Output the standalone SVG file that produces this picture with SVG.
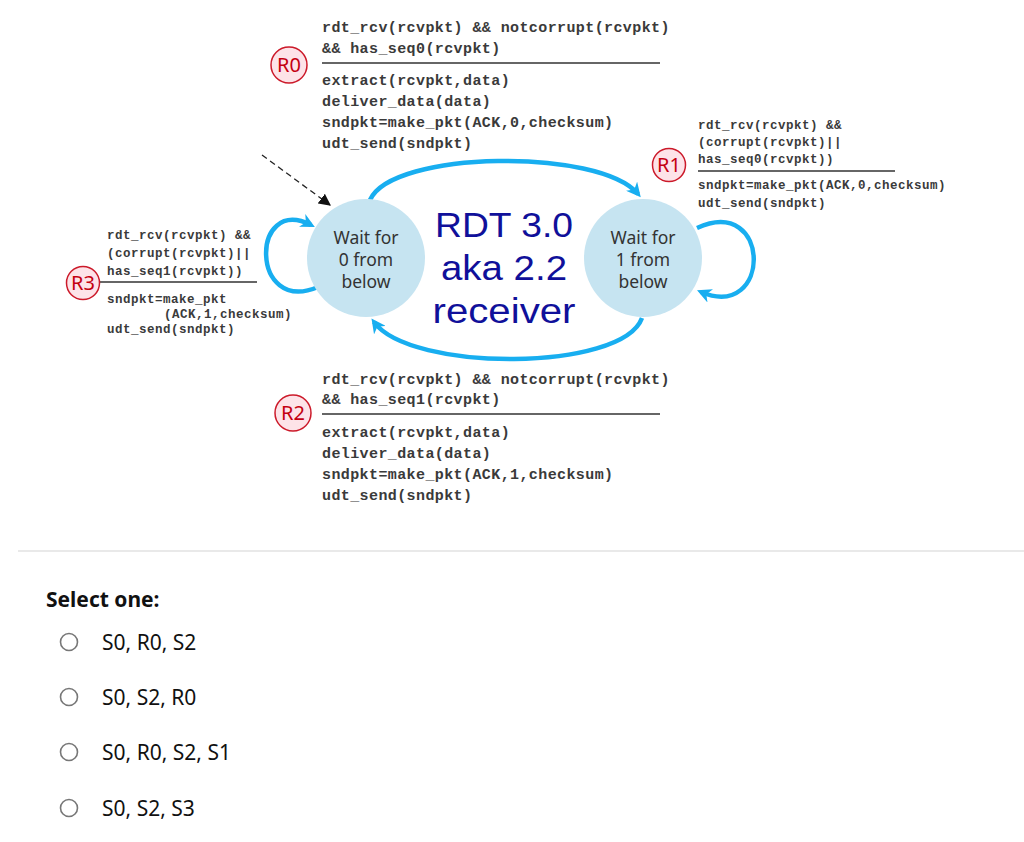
<svg xmlns="http://www.w3.org/2000/svg" width="1024" height="842" viewBox="0 0 1024 842">
<style>
.code{font-family:"Liberation Mono","DejaVu Sans Mono",monospace;font-weight:bold;font-size:15px;fill:#3a3a3a;letter-spacing:0.4px}
.codes{font-family:"Liberation Mono","DejaVu Sans Mono",monospace;font-weight:bold;font-size:12.5px;fill:#3a3a3a;letter-spacing:0.5px}
.rule{stroke:#333;stroke-width:1.3}
.tag circle{fill:#fde3e8;stroke:#cc1a2a;stroke-width:1.5}
.tag text{font-family:"Noto Sans","Liberation Sans",sans-serif;font-size:20px;fill:#c40010;text-anchor:middle}
.state circle{fill:#c6e4f1}
.state text{font-family:"Noto Sans","Liberation Sans",sans-serif;font-size:17.5px;fill:#333;text-anchor:middle}
.edge{fill:none;stroke:#18aef0;stroke-width:4.5}
.title{font-family:"Liberation Sans","Noto Sans",sans-serif;font-size:35px;fill:#10109a;text-anchor:middle}
.opt{font-family:"Noto Sans","Liberation Sans",sans-serif;font-size:21px;fill:#111}
.radio{fill:#fff;stroke:#777;stroke-width:1.6}
</style>
<defs>
<marker id="ab" viewBox="0 0 10 10" refX="7" refY="5" markerWidth="3.2" markerHeight="3.2" orient="auto" markerUnits="strokeWidth">
<path d="M0,0 L10,5 L0,10 L3,5 Z" fill="#18aef0"/>
</marker>
<marker id="ak" viewBox="0 0 10 10" refX="9" refY="5" markerWidth="12" markerHeight="12" orient="auto" markerUnits="userSpaceOnUse">
<path d="M0,0 L10,5 L0,10 Z" fill="#111"/>
</marker>
</defs>
<rect width="1024" height="842" fill="#fff"/>

<g id="connectors">
<path class="edge" d="M370,200 C392,150 600,148 638,194" marker-end="url(#ab)"/>
<path class="edge" d="M642,318 C622,372 410,372 374,322" marker-end="url(#ab)"/>
<path class="edge" d="M318,287 C250,316 250,194 311,225" marker-end="url(#ab)"/>
<path class="edge" d="M697,228 C772,194 772,322 701,292" marker-end="url(#ab)"/>
<line x1="262" y1="155" x2="330" y2="205" stroke="#222" stroke-width="1.3" stroke-dasharray="6,4" marker-end="url(#ak)"/>
</g>

<g id="state0" class="state">
<circle cx="366" cy="258" r="59"/>
<text x="366" y="244">Wait for</text>
<text x="366" y="266">0 from</text>
<text x="366" y="288">below</text>
</g>
<g id="state1" class="state">
<circle cx="643" cy="258" r="59"/>
<text x="643" y="244">Wait for</text>
<text x="643" y="266">1 from</text>
<text x="643" y="288">below</text>
</g>

<g id="title">
<text class="title" x="504" y="237" textLength="138" lengthAdjust="spacingAndGlyphs">RDT 3.0</text>
<text class="title" x="504" y="280" textLength="126" lengthAdjust="spacingAndGlyphs">aka 2.2</text>
<text class="title" x="504" y="323" textLength="143" lengthAdjust="spacingAndGlyphs">receiver</text>
</g>

<g id="label-R0">
<text class="code" x="322" y="32">rdt_rcv(rcvpkt) &amp;&amp; notcorrupt(rcvpkt)</text>
<text class="code" x="322" y="53">&amp;&amp; has_seq0(rcvpkt)</text>
<line class="rule" x1="322" y1="63" x2="660" y2="63"/>
<text class="code" x="322" y="85">extract(rcvpkt,data)</text>
<text class="code" x="322" y="106">deliver_data(data)</text>
<text class="code" x="322" y="127">sndpkt=make_pkt(ACK,0,checksum)</text>
<text class="code" x="322" y="148">udt_send(sndpkt)</text>
<g class="tag"><circle cx="289" cy="65" r="18"/><text x="289" y="72">R0</text></g>
</g>

<g id="label-R1">
<text class="codes" x="698" y="129">rdt_rcv(rcvpkt) &amp;&amp;</text>
<text class="codes" x="698" y="146">(corrupt(rcvpkt)||</text>
<text class="codes" x="698" y="163">has_seq0(rcvpkt))</text>
<line class="rule" x1="698" y1="171" x2="895" y2="171"/>
<text class="codes" x="698" y="189">sndpkt=make_pkt(ACK,0,checksum)</text>
<text class="codes" x="698" y="207">udt_send(sndpkt)</text>
<g class="tag"><circle cx="669" cy="165" r="16.5"/><text x="669" y="172">R1</text></g>
</g>

<g id="label-R3">
<text class="codes" x="107" y="239">rdt_rcv(rcvpkt) &amp;&amp;</text>
<text class="codes" x="107" y="257">(corrupt(rcvpkt)||</text>
<text class="codes" x="107" y="275">has_seq1(rcvpkt))</text>
<line class="rule" x1="100" y1="282" x2="257" y2="282"/>
<text class="codes" x="107" y="303">sndpkt=make_pkt</text>
<text class="codes" x="164" y="318">(ACK,1,checksum)</text>
<text class="codes" x="107" y="333">udt_send(sndpkt)</text>
<g class="tag"><circle cx="83" cy="283" r="16.5"/><text x="83" y="290">R3</text></g>
</g>

<g id="label-R2">
<text class="code" x="322" y="384">rdt_rcv(rcvpkt) &amp;&amp; notcorrupt(rcvpkt)</text>
<text class="code" x="322" y="404">&amp;&amp; has_seq1(rcvpkt)</text>
<line class="rule" x1="322" y1="414" x2="660" y2="414"/>
<text class="code" x="322" y="437">extract(rcvpkt,data)</text>
<text class="code" x="322" y="458">deliver_data(data)</text>
<text class="code" x="322" y="479">sndpkt=make_pkt(ACK,1,checksum)</text>
<text class="code" x="322" y="500">udt_send(sndpkt)</text>
<g class="tag"><circle cx="293" cy="413" r="18"/><text x="293" y="420">R2</text></g>
</g>

<line x1="18" y1="551" x2="1024" y2="551" stroke="#e2e2e2" stroke-width="1.5"/>

<g id="question">
<text x="46" y="607" font-family="'Noto Sans','Liberation Sans',sans-serif" font-weight="bold" font-size="21" fill="#111">Select one:</text>
<circle class="radio" cx="69" cy="642" r="8.5"/>
<text class="opt" x="102" y="650">S0, R0, S2</text>
<circle class="radio" cx="69" cy="697" r="8.5"/>
<text class="opt" x="102" y="705">S0, S2, R0</text>
<circle class="radio" cx="69" cy="752" r="8.5"/>
<text class="opt" x="102" y="760">S0, R0, S2, S1</text>
<circle class="radio" cx="69" cy="808" r="8.5"/>
<text class="opt" x="102" y="816">S0, S2, S3</text>
</g>
</svg>
